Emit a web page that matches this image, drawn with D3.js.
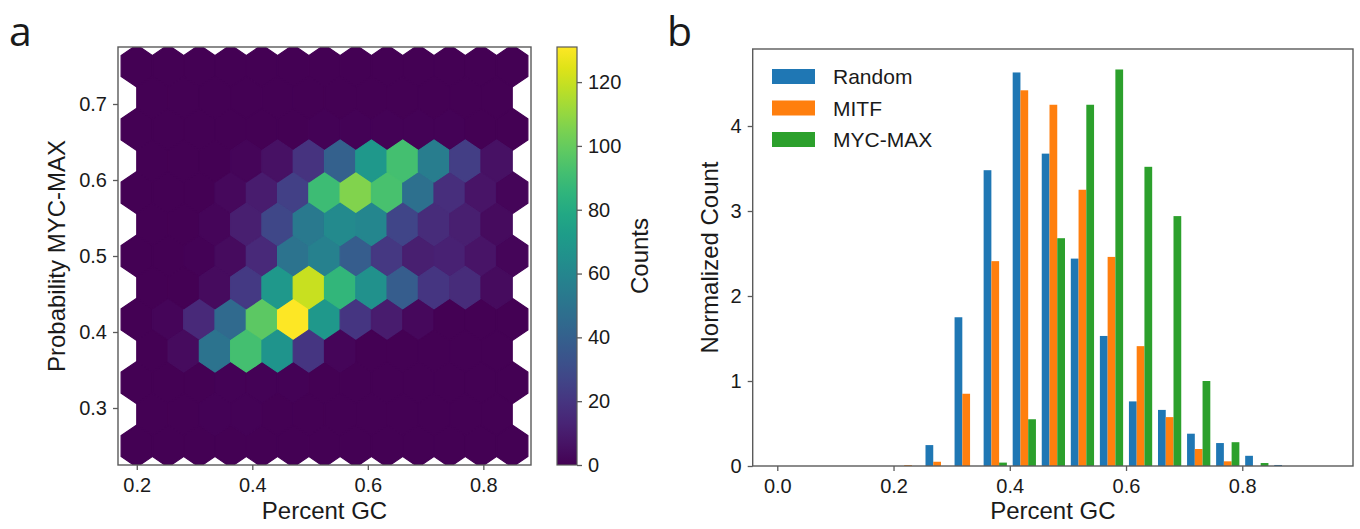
<!DOCTYPE html>
<html>
<head>
<meta charset="utf-8">
<script src="https://cdn.jsdelivr.net/npm/d3@7"></script>
<style>
  html, body { margin: 0; padding: 0; background: #ffffff; }
  svg { display: block; }
  text { font-family: "Liberation Sans", Arial, sans-serif; fill: #1a1a1a; }
</style>
</head>
<body>
<svg id="chart" width="1360" height="529"></svg>
<script>
// ---------------- Panel a: hexbin data ----------------
// Hexbin grid extent (data coords) and grid size
const hexXRange = [0.2, 0.85];
const hexYRange = [0.25, 0.75];
const hexGridX = 12;
const hexGridY = 6;

// Lattice 1 (centres at xmin + i*sx, ymin + j*sy), rows bottom -> top, 13 columns
const lattice1Counts = [
  [0, 0, 0, 0, 0, 0, 0, 0, 0, 0, 0, 0, 0],
  [0, 0, 0, 1, 1, 1, 0, 0, 0, 0, 0, 0, 0],
  [0, 2, 15, 45, 98, 131, 70, 20, 10, 3, 0, 0, 0],
  [0, 0, 1, 4, 15, 50, 57, 38, 21, 11, 12, 7, 2],
  [0, 0, 0, 3, 10, 25, 90, 106, 93, 48, 17, 7, 2],
  [0, 0, 0, 0, 0, 0, 1, 1, 1, 1, 1, 0, 0],
  [0, 0, 0, 0, 0, 0, 0, 0, 0, 0, 0, 0, 0]
];
// Lattice 2 (centres offset by half a cell), rows bottom -> top, 12 columns
const lattice2Counts = [
  [0, 0, 1, 1, 0, 0, 0, 0, 0, 0, 0, 0],
  [0, 4, 50, 92, 68, 20, 2, 0, 0, 0, 0, 0],
  [0, 0, 4, 22, 70, 120, 86, 66, 38, 20, 16, 4],
  [0, 0, 2, 11, 28, 53, 62, 60, 27, 16, 11, 4],
  [0, 0, 0, 2, 6, 19, 40, 70, 92, 55, 24, 6],
  [0, 0, 0, 0, 0, 0, 0, 0, 0, 0, 0, 0]
];
const countMax = 131;
const colorbarTicks = [0, 20, 40, 60, 80, 100, 120];
const hexXTicks = [0.2, 0.4, 0.6, 0.8];
const hexYTicks = [0.3, 0.4, 0.5, 0.6, 0.7];

// ---------------- Panel b: histogram data ----------------
const binStarts = [0.00, 0.05, 0.10, 0.15, 0.20, 0.25, 0.30, 0.35, 0.40, 0.45,
                   0.50, 0.55, 0.60, 0.65, 0.70, 0.75, 0.80, 0.85, 0.90];
const binWidth = 0.05;
const randomValues = [0, 0, 0, 0, 0, 0.246, 1.75, 3.48, 4.63, 3.675, 2.44, 1.53, 0.76, 0.66, 0.38, 0.27, 0.12, 0.012, 0];
const mitfValues   = [0, 0, 0, 0, 0.01, 0.05, 0.85, 2.41, 4.42, 4.25, 3.25, 2.46, 1.41, 0.575, 0.20, 0.055, 0, 0, 0];
const mycMaxValues = [0, 0, 0, 0, 0, 0, 0, 0.04, 0.55, 2.68, 4.25, 4.665, 3.52, 2.94, 1.0, 0.28, 0.035, 0, 0];
const seriesNames = ["Random", "MITF", "MYC-MAX"];
const seriesColors = ["#1f77b4", "#ff7f0e", "#2ca02c"];
const histXTicks = [0.0, 0.2, 0.4, 0.6, 0.8];
const histYTicks = [0, 1, 2, 3, 4];

// ---------------- drawing ----------------
const svg = d3.select("#chart");
svg.append("rect").attr("width", 1360).attr("height", 529).attr("fill", "#fff");

const frameColor = "#5a5a5a";
const tickFont = 20, labelFont = 24;

// ===== Panel a =====
const A = { left: 118, right: 531, top: 47, bottom: 465 };
const xA = d3.scaleLinear().domain([0.1675, 0.8825]).range([A.left, A.right]);
const yA = d3.scaleLinear().domain([0.225, 0.775]).range([A.bottom, A.top]);
const color = d3.scaleSequential(d3.interpolateViridis).domain([0, countMax]);

svg.append("clipPath").attr("id", "clipA")
  .append("rect").attr("x", A.left).attr("y", A.top)
  .attr("width", A.right - A.left).attr("height", A.bottom - A.top);

const sx = (hexXRange[1] - hexXRange[0]) / hexGridX;
const sy = (hexYRange[1] - hexYRange[0]) / hexGridY;
const hexCells = [];
lattice1Counts.forEach((row, j) => row.forEach((c, i) => hexCells.push({
  cx: hexXRange[0] + i * sx, cy: hexYRange[0] + j * sy, c })));
lattice2Counts.forEach((row, j) => row.forEach((c, i) => hexCells.push({
  cx: hexXRange[0] + (i + 0.5) * sx, cy: hexYRange[0] + (j + 0.5) * sy, c })));
const hexShape = [[0.5, -1/6], [0.5, 1/6], [0, 1/3], [-0.5, 1/6], [-0.5, -1/6], [0, -1/3]];

const gA = svg.append("g").attr("clip-path", "url(#clipA)");
gA.selectAll("polygon").data(hexCells).join("polygon")
  .attr("points", d => hexShape.map(([u, v]) =>
      [xA(d.cx + u * sx), yA(d.cy + v * sy)].join(",")).join(" "))
  .attr("fill", d => color(d.c))
  .attr("stroke", d => color(d.c))
  .attr("stroke-width", 1.2)
  .attr("stroke-linejoin", "miter");

svg.append("rect").attr("x", A.left).attr("y", A.top)
  .attr("width", A.right - A.left).attr("height", A.bottom - A.top)
  .attr("fill", "none").attr("stroke", frameColor).attr("stroke-width", 1.4);

function styleAxis(g) {
  g.select(".domain").remove();
  g.selectAll(".tick line").attr("stroke", frameColor).attr("stroke-width", 1.3);
  g.selectAll(".tick text").style("font-size", tickFont + "px")
    .style("font-family", '"Liberation Sans", Arial, sans-serif').attr("fill", "#1a1a1a");
}

svg.append("g").attr("transform", `translate(0,${A.bottom})`)
  .call(d3.axisBottom(xA).tickValues(hexXTicks).tickFormat(d3.format(".1f")).tickSize(5).tickPadding(8))
  .call(styleAxis);
svg.append("g").attr("transform", `translate(${A.left},0)`)
  .call(d3.axisLeft(yA).tickValues(hexYTicks).tickFormat(d3.format(".1f")).tickSize(5).tickPadding(6))
  .call(styleAxis);

svg.append("text").attr("x", (A.left + A.right) / 2).attr("y", 519)
  .attr("text-anchor", "middle").style("font-size", labelFont + "px").text("Percent GC");
svg.append("text").attr("transform", `translate(65,${(A.top + A.bottom) / 2}) rotate(-90)`)
  .attr("text-anchor", "middle").style("font-size", labelFont + "px").text("Probability MYC-MAX");

// Colorbar
const CB = { left: 557, right: 577, top: 47, bottom: 465 };
const defs = svg.append("defs");
const grad = defs.append("linearGradient").attr("id", "viridisGrad")
  .attr("x1", 0).attr("y1", 1).attr("x2", 0).attr("y2", 0);
d3.range(0, 1.0001, 0.05).forEach(t => grad.append("stop")
  .attr("offset", t).attr("stop-color", d3.interpolateViridis(t)));
svg.append("rect").attr("x", CB.left).attr("y", CB.top)
  .attr("width", CB.right - CB.left).attr("height", CB.bottom - CB.top)
  .attr("fill", "url(#viridisGrad)").attr("stroke", frameColor).attr("stroke-width", 1.2);
const yCB = d3.scaleLinear().domain([0, countMax]).range([CB.bottom, CB.top]);
svg.append("g").attr("transform", `translate(${CB.right},0)`)
  .call(d3.axisRight(yCB).tickValues(colorbarTicks).tickSize(5).tickPadding(6))
  .call(styleAxis);
svg.append("text").attr("transform", `translate(648,${(CB.top + CB.bottom) / 2}) rotate(-90)`)
  .attr("text-anchor", "middle").style("font-size", labelFont + "px").text("Counts");

// ===== Panel b =====
const B = { left: 752.7, right: 1353, top: 49, bottom: 466 };
const xB = d3.scaleLinear().domain([-0.0423, 0.9905]).range([B.left, B.right]);
const yB = d3.scaleLinear().domain([0, 4.906]).range([B.bottom, B.top]);

const seriesValues = [randomValues, mitfValues, mycMaxValues];
const barW = 0.8 * binWidth / 3;
const bars = [];
seriesValues.forEach((vals, k) => vals.forEach((v, i) => {
  if (v > 0) bars.push({ x0: binStarts[i] + 0.1 * binWidth + k * barW, v, k });
}));
svg.append("g").selectAll("rect").data(bars).join("rect")
  .attr("x", d => xB(d.x0))
  .attr("width", d => xB(d.x0 + barW) - xB(d.x0))
  .attr("y", d => yB(d.v))
  .attr("height", d => yB(0) - yB(d.v))
  .attr("fill", d => seriesColors[d.k]);

svg.append("rect").attr("x", B.left).attr("y", B.top)
  .attr("width", B.right - B.left).attr("height", B.bottom - B.top)
  .attr("fill", "none").attr("stroke", frameColor).attr("stroke-width", 1.4);

svg.append("g").attr("transform", `translate(0,${B.bottom})`)
  .call(d3.axisBottom(xB).tickValues(histXTicks).tickFormat(d3.format(".1f")).tickSize(5).tickPadding(8))
  .call(styleAxis);
svg.append("g").attr("transform", `translate(${B.left},0)`)
  .call(d3.axisLeft(yB).tickValues(histYTicks).tickFormat(d3.format("d")).tickSize(5).tickPadding(6))
  .call(styleAxis);

svg.append("text").attr("x", (B.left + B.right) / 2).attr("y", 519)
  .attr("text-anchor", "middle").style("font-size", labelFont + "px").text("Percent GC");
svg.append("text").attr("transform", `translate(718,${(B.top + B.bottom) / 2}) rotate(-90)`)
  .attr("text-anchor", "middle").style("font-size", labelFont + "px").text("Normalized Count");

// Legend
const legend = svg.append("g");
seriesNames.forEach((name, k) => {
  const cy = 76.5 + k * 31.5;
  legend.append("rect").attr("x", 772).attr("y", cy - 7.5).attr("width", 43).attr("height", 15)
    .attr("fill", seriesColors[k]);
  legend.append("text").attr("x", 833).attr("y", cy + 7.5).style("font-size", "21px").text(name);
});

// Panel letters
svg.append("text").attr("x", 9).attr("y", 46).style("font-family", '"Open Sans", sans-serif')
  .style("font-size", "41px").text("a");
svg.append("text").attr("x", 667).attr("y", 46).style("font-family", '"Open Sans", sans-serif')
  .style("font-size", "41px").text("b");
</script>
</body>
</html>
